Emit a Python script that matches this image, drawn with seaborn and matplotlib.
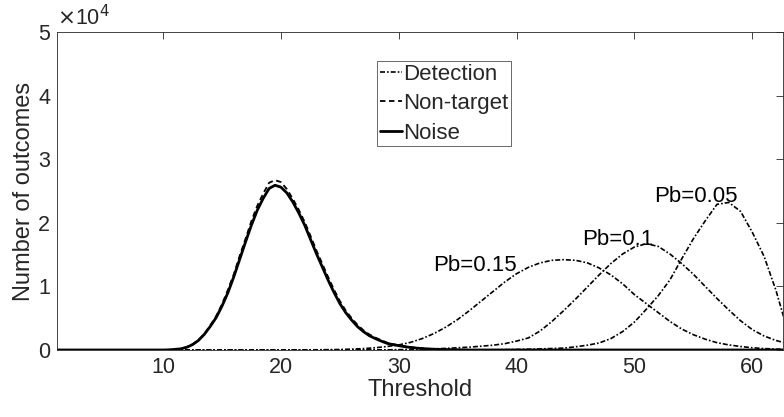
import numpy as np
import pandas as pd
import matplotlib
matplotlib.use("Agg")
import matplotlib.pyplot as plt
import seaborn as sns

# noise / non-target are read at half steps (narrow peak)
thr_half = [1, 5, 10, 10.5, 11, 11.5, 12, 12.5, 13, 13.5, 14, 14.5, 15, 15.5, 16, 16.5,
            17, 17.5, 18, 18.5, 19, 19.5, 20, 20.5, 21, 21.5, 22, 22.5, 23, 23.5,
            24, 24.5, 25, 25.5, 26, 26.5, 27, 27.5, 28, 28.5, 29, 29.5, 30, 30.5,
            31, 31.5, 32, 33, 34, 35, 36, 40, 50, 63]
noise = [0, 0, 0, 20, 100, 180, 420, 840, 1500, 2460, 3700, 5080, 6900, 9000, 11500, 14250,
         17000, 19650, 22000, 23850, 25400, 25900, 25600, 24700, 23300, 21600, 19700, 17450, 15200, 13100,
         11000, 9070, 7300, 5870, 4700, 3670, 2900, 2250, 1800, 1410, 1050, 840, 680, 520,
         400, 300, 220, 120, 60, 30, 0, 0, 0, 0]
non_target = [0, 0, 0, 25, 120, 200, 450, 900, 1550, 2550, 3850, 5300, 7200, 9450, 11900, 14800,
              17500, 20300, 22700, 24600, 26300, 26700, 26400, 25300, 23800, 22100, 20200, 18000, 15700, 13600,
              11500, 9500, 7700, 6200, 5000, 3950, 3100, 2450, 1950, 1550, 1150, 920, 750, 580,
              450, 330, 250, 130, 70, 30, 0, 0, 0, 0]

# detection outcomes for three Pb values, integer thresholds
threshold = list(range(1, 64))
det_015 = [0, 0, 0, 0, 0, 0, 0, 0, 0, 0,
           0, 0, 0, 0, 0, 0, 0, 0, 5, 10,
           15, 20, 30, 50, 80, 130, 220, 350, 550, 800,
           1200, 1800, 2600, 3600, 4800, 6200, 7700, 9200, 10700, 12000,
           13000, 13700, 14100, 14200, 14100, 13700, 12900, 11800, 10400, 8700,
           7300, 5900, 4500, 3300, 2400, 1700, 1150, 800, 550, 350,
           220, 140, 90]
det_010 = [0, 0, 0, 0, 0, 0, 0, 0, 0, 0,
           0, 0, 0, 0, 0, 0, 0, 0, 0, 0,
           0, 0, 0, 0, 5, 10, 15, 20, 30, 50,
           80, 120, 180, 250, 350, 450, 600, 750, 1000, 1400,
           1900, 3000, 4500, 6200, 8000, 9900, 11800, 13600, 15100, 16200,
           16700, 16300, 15100, 13600, 11900, 10000, 8100, 6300, 4600, 3200,
           2200, 1500, 1000]
det_005 = [0, 0, 0, 0, 0, 0, 0, 0, 0, 0,
           0, 0, 0, 0, 0, 0, 0, 0, 0, 0,
           0, 0, 0, 0, 0, 0, 0, 0, 0, 0,
           0, 0, 0, 0, 5, 10, 20, 30, 50, 80,
           120, 170, 230, 300, 500, 750, 1100, 1800, 2900, 4400,
           6400, 8500, 11000, 14300, 17500, 20300, 22900, 23200, 21800, 18500,
           14700, 9400, 3000]

pb_labels = ["Pb=0.15", "Pb=0.1", "Pb=0.05"]
pb_label_x = [36.5, 48.6, 55.2]
pb_label_y = [13300, 17300, 24200]

sns.set_style("white")
plt.rcParams["font.family"] = ["Liberation Sans", "DejaVu Sans"]
axcol = "#262626"

fig = plt.figure(figsize=(7.84, 4.17), dpi=100)
ax = fig.add_axes([0.0727, 0.1607, 0.9260, 0.7626])

det = pd.DataFrame({"threshold": threshold, "d015": det_015, "d010": det_010, "d005": det_005})
nz = pd.DataFrame({"threshold": thr_half, "noise": noise, "non_target": non_target})

for i, col in enumerate(["d015", "d010", "d005"]):
    sns.lineplot(data=det, x="threshold", y=col, ax=ax, color="black",
                 linestyle=(0, (3, 1.2, 1, 1.2)), linewidth=1.2,
                 label="Detection" if i == 0 else None, legend=False)
sns.lineplot(data=nz, x="threshold", y="non_target", ax=ax, color="black",
             linestyle=(0, (3, 2)), linewidth=1.3, label="Non-target", legend=False)
sns.lineplot(data=nz, x="threshold", y="noise", ax=ax, color="black",
             linestyle="-", linewidth=2.0, label="Noise", legend=False)

for t, x, y in zip(pb_labels, pb_label_x, pb_label_y):
    ax.text(x, y, t, ha="center", va="center", fontsize=16, color="black")

ax.set_xlim(1, 62.6)
ax.set_ylim(0, 50000)
ax.set_xticks([10, 20, 30, 40, 50, 60])
ax.set_yticks([0, 10000, 20000, 30000, 40000, 50000])
ax.set_yticklabels(["0", "1", "2", "3", "4", "5"])
ax.tick_params(direction="in", length=5, width=0.6, colors=axcol,
               labelsize=15.5, top=True, right=True, pad=5)
for s in ax.spines.values():
    s.set_visible(True)
    s.set_color(axcol)
    s.set_linewidth(0.6)

ax.set_xlabel("Threshold", fontsize=17, color=axcol, labelpad=1)
ax.set_ylabel("Number of outcomes", fontsize=17, color=axcol, labelpad=2)
ax.text(0.0, 1.005, r"$\times$10$^{4}$", transform=ax.transAxes,
        ha="left", va="bottom", fontsize=15.5, color=axcol)

leg = ax.legend(loc="upper left", bbox_to_anchor=(0.4408, 0.9088), borderaxespad=0,
                fontsize=16, frameon=True, fancybox=False, handlelength=1.0,
                handletextpad=0.05, labelspacing=0.38, borderpad=0.12)
leg.get_frame().set_edgecolor(axcol)
leg.get_frame().set_linewidth(0.6)

fig.savefig("out.png", dpi=100)
